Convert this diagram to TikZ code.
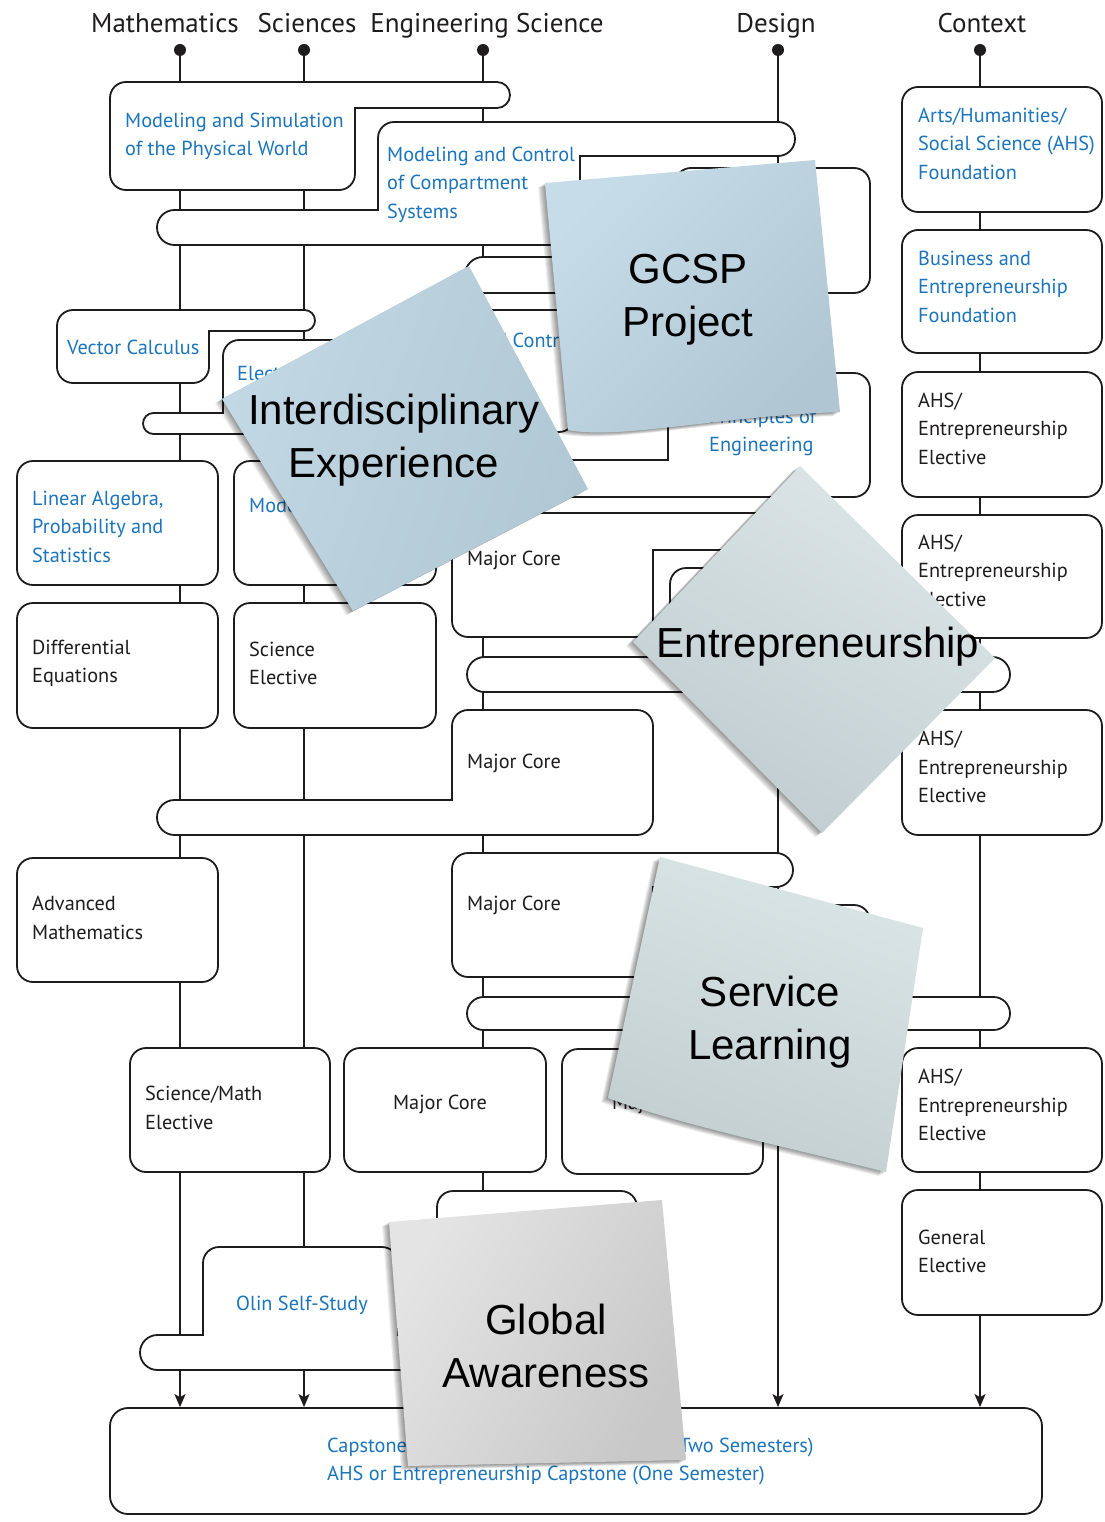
\documentclass[tikz,border=0pt]{standalone}
\usepackage{fontspec}
\setmainfont{PT Sans}
\newfontfamily\notefont{Liberation Sans}
\usetikzlibrary{arrows.meta}
\definecolor{olblue}{RGB}{28,117,188}
\definecolor{ink}{RGB}{30,28,29}
\definecolor{gcA}{RGB}{198,221,233}
\definecolor{gcB}{RGB}{176,198,211}
\definecolor{iA}{RGB}{194,216,228}
\definecolor{iB}{RGB}{176,199,212}
\definecolor{eA}{RGB}{220,230,232}
\definecolor{eB}{RGB}{192,204,208}
\definecolor{sA}{RGB}{218,229,230}
\definecolor{sB}{RGB}{194,206,208}
\definecolor{glA}{RGB}{228,228,228}
\definecolor{glB}{RGB}{200,200,200}
\newcommand\stickynote[4]{%
  \foreach \s in {1,...,7}{\fill[black,opacity=0.065,shift={(-\s*1.0,\s*0.6)}] #1;}%
  \shade[left color=#2,right color=#3,shading angle=#4] #1;}
\begin{document}
\begin{tikzpicture}[x=1pt,y=-1pt,
  shp/.style={draw=ink, line width=1.8pt, fill=white},
  col/.style={draw=ink, line width=1.8pt},
  tip/.style={-{Stealth[length=13pt,width=11pt,inset=3pt]}},
  bt/.style={font=\fontsize{20.3}{28.5}\selectfont, text=ink, align=left, anchor=west, inner sep=0pt},
  btb/.style={bt, text=olblue},
  hdr/.style={font=\fontsize{27}{30}\selectfont, text=ink, inner sep=0pt, anchor=base},
  notet/.style={font=\notefont\fontsize{42}{53}\selectfont, text=black, align=center, inner sep=0pt}]
\useasboundingbox (0,0) rectangle (1104,1522);

% capstone
\node[draw=ink, line width=1.8pt, rounded corners=18pt, minimum width=932pt, minimum height=106pt, inner sep=0pt, fill=white] (cap) at (576,1461) {};

% headers and column dots
\node[hdr] (hM) at (165,33) {Mathematics};
\node[hdr] (hS) at (307,33) {Sciences};
\node[hdr] (hE) at (487,33) {Engineering Science};
\node[hdr] (hD) at (776,33) {Design};
\node[hdr] (hC) at (982,33) {Context};
\coordinate (dM) at (180,50);
\coordinate (dS) at (304,50);
\coordinate (dE) at (483,50);
\coordinate (dD) at (778,50);
\coordinate (dC) at (980,50);
\foreach \c in {dM,dS,dE,dD,dC} {
  \fill[ink] (\c) circle[radius=6];
  \draw[col,tip] (\c) -- (\c |- cap.north);
}

% ---- shapes ----
% Modeling and Simulation
\draw[shp] (110,120) -- (110,98) arc[start angle=180,end angle=270,radius=16] -- (497,82) arc[start angle=-90,end angle=90,radius=13] -- (355,108) -- (355,174) arc[start angle=0,end angle=90,radius=16] -- (126,190) arc[start angle=90,end angle=180,radius=16] -- cycle;
% Modeling and Control of Compartment Systems
\draw[shp] (174.5,210) -- (378,210) -- (378,138) arc[start angle=180,end angle=270,radius=16] -- (778,122) arc[start angle=-90,end angle=90,radius=17] -- (580,156) -- (580,210) -- (602,210) arc[start angle=-90,end angle=90,radius=17.5] -- (174.5,245) arc[start angle=90,end angle=270,radius=17.5] -- cycle;
% design course under GCSP
\draw[shp] (483,257) -- (675,257) -- (675,184) arc[start angle=180,end angle=270,radius=16] -- (854,168) arc[start angle=-90,end angle=0,radius=16] -- (870,277) arc[start angle=0,end angle=90,radius=16] -- (483,293) arc[start angle=90,end angle=270,radius=18] -- cycle;
% Vector Calculus
\draw[shp] (57,350) -- (57,326) arc[start angle=180,end angle=270,radius=16] -- (304.5,310) arc[start angle=-90,end angle=90,radius=10.5] -- (209,331) -- (209,367) arc[start angle=0,end angle=90,radius=16] -- (73,383) arc[start angle=90,end angle=180,radius=16] -- cycle;
% Electricity ...
\draw[shp] (153.5,413) -- (223,413) -- (223,356) arc[start angle=180,end angle=270,radius=16] -- (374,340) arc[start angle=-90,end angle=0,radius=16] -- (390,418) arc[start angle=0,end angle=90,radius=16] -- (153.5,434) arc[start angle=90,end angle=270,radius=10.5] -- cycle;
% ... and Control
\draw[shp, rounded corners=16pt] (400,310) rectangle (575,432);
% Principles of Engineering
\draw[shp] (490,460) -- (668,460) -- (668,389) arc[start angle=180,end angle=270,radius=16] -- (854,373) arc[start angle=-90,end angle=0,radius=16] -- (870,481) arc[start angle=0,end angle=90,radius=16] -- (490,497) arc[start angle=90,end angle=270,radius=18.5] -- cycle;
% left column boxes
\draw[shp, rounded corners=16pt] (17,461) rectangle (218,585);
\draw[shp, rounded corners=16pt] (234,461) rectangle (436,585);
\draw[shp, rounded corners=16pt] (17,603) rectangle (218,728);
\draw[shp, rounded corners=16pt] (234,603) rectangle (436,728);
\draw[shp, rounded corners=16pt] (17,858) rectangle (218,982);
% Major Core 1
\draw[shp] (452,600) -- (452,529) arc[start angle=180,end angle=270,radius=16] -- (816.5,513) arc[start angle=-90,end angle=90,radius=18.5] -- (653,550) -- (653,621) arc[start angle=0,end angle=90,radius=16] -- (468,637) arc[start angle=90,end angle=180,radius=16] -- cycle;
% design course 2
\draw[shp] (484.5,657) -- (670,657) -- (670,584) arc[start angle=180,end angle=270,radius=16] -- (854,568) arc[start angle=-90,end angle=0,radius=16] -- (870,657) -- (992.5,657) arc[start angle=-90,end angle=90,radius=17.5] -- (484.5,692) arc[start angle=90,end angle=270,radius=17.5] -- cycle;
% Major Core 2
\draw[shp] (174.5,800) -- (452,800) -- (452,726) arc[start angle=180,end angle=270,radius=16] -- (637,710) arc[start angle=-90,end angle=0,radius=16] -- (653,819) arc[start angle=0,end angle=90,radius=16] -- (174.5,835) arc[start angle=90,end angle=270,radius=17.5] -- cycle;
% Major Core 3
\draw[shp] (452,920) -- (452,869) arc[start angle=180,end angle=270,radius=16] -- (776,853) arc[start angle=-90,end angle=90,radius=17] -- (653,887) -- (653,961) arc[start angle=0,end angle=90,radius=16] -- (468,977) arc[start angle=90,end angle=180,radius=16] -- cycle;
% design course 3
\draw[shp] (483.5,997) -- (670,997) -- (670,921) arc[start angle=180,end angle=270,radius=16] -- (854,905) arc[start angle=-90,end angle=0,radius=16] -- (870,997) -- (993.5,997) arc[start angle=-90,end angle=90,radius=16.5] -- (483.5,1030) arc[start angle=90,end angle=270,radius=16.5] -- cycle;
% bottom row
\draw[shp, rounded corners=16pt] (130,1048) rectangle (330,1172);
\draw[shp, rounded corners=16pt] (344,1048) rectangle (546,1172);
\draw[shp, rounded corners=16pt] (562,1049) rectangle (763,1174);
\draw[shp, rounded corners=16pt] (437,1191) rectangle (637,1315);
% Olin Self-Study
\draw[shp] (157.5,1335) -- (203,1335) -- (203,1263) arc[start angle=180,end angle=270,radius=16] -- (382,1247) arc[start angle=-90,end angle=0,radius=16] -- (398,1335) -- (420,1335) arc[start angle=-90,end angle=90,radius=17.5] -- (157.5,1370) arc[start angle=90,end angle=270,radius=17.5] -- cycle;
% context column
\draw[shp, rounded corners=16pt] (902,87) rectangle (1102,212);
\draw[shp, rounded corners=16pt] (902,230) rectangle (1102,353);
\draw[shp, rounded corners=16pt] (902,372) rectangle (1102,497);
\draw[shp, rounded corners=16pt] (902,515) rectangle (1102,638);
\draw[shp, rounded corners=16pt] (902,710) rectangle (1102,835);
\draw[shp, rounded corners=16pt] (902,1048) rectangle (1102,1172);
\draw[shp, rounded corners=16pt] (902,1190) rectangle (1102,1315);

% ---- texts ----
\node[btb] (tms) at (125,136.5) {Modeling and Simulation\\of the Physical World};
\node[btb] (tmc) at (387,184.5) {Modeling and Control\\of Compartment\\Systems};
\node[btb] (tvc) at (67,347) {Vector Calculus};
\node[btb] (tel) at (237,375) {Electricity};
\node[btb] (tct) at (475,340) {and Control};
\node[btb] (tpe) at (709,432.5) {Principles of\\Engineering};
\node[btb] (tla) at (32,526.5) {Linear Algebra,\\Probability and\\Statistics};
\node[btb] (tmo) at (249,507) {Modern Biology};
\node[bt] (tm1) at (467,560) {Major Core};
\node[bt] (tde) at (32,663.5) {Differential\\Equations};
\node[bt] (tse) at (249,663.5) {Science\\Elective};
\node[bt] (tm2) at (467,763) {Major Core};
\node[bt] (tam) at (32,918) {Advanced\\Mathematics};
\node[bt] (tm3) at (467,905) {Major Core};
\node[bt] (tsm) at (145,1108) {Science/Math\\Elective};
\node[bt, anchor=center] (tm4) at (440,1104) {Major Core};
\node[bt, anchor=center] (tm5) at (659,1104) {Major Core};
\node[btb] (tos) at (236,1305) {Olin Self-Study};
\node[btb] (tcp) at (327,1461.5) {Capstone Engineering Design Programs (Two Semesters)\\AHS or Entrepreneurship Capstone (One Semester)};
\node[btb] (tahs) at (918,143.5) {Arts/Humanities/\\Social Science (AHS)\\Foundation};
\node[btb] (tbe) at (918,286.5) {Business and\\Entrepreneurship\\Foundation};
\node[bt] (te1) at (918,428.5) {AHS/\\Entrepreneurship\\Elective};
\node[bt] (te2) at (918,570.5) {AHS/\\Entrepreneurship\\Elective};
\node[bt] (te3) at (918,767) {AHS/\\Entrepreneurship\\Elective};
\node[bt] (te4) at (918,1105) {AHS/\\Entrepreneurship\\Elective};
\node[bt] (tge) at (918,1251.5) {General\\Elective};

% ---- sticky notes ----
\stickynote{(222,399) -- (469,266) -- (588,489) -- (353,611) -- cycle}{iA}{iB}{70}
\node[notet] (nI) at (394,440) {Interdisciplinary\\Experience};
\stickynote{(545,183) -- (815,160) -- (840,412) .. controls (720,416) and (620,440) .. (568,430) -- cycle}{gcA}{gcB}{45}
\node[notet] (nG) at (688,300) {GCSP\\Project};
\stickynote{(800,466) -- (995,658) -- (822,833) -- (633,642) -- cycle}{eA}{eB}{-30}
\node[notet] (nE) at (818,647) {Entrepreneurship};
\stickynote{(660,857) -- (923,928) -- (886,1172) .. controls (800,1150) and (680,1125) .. (608,1098) -- cycle}{sA}{sB}{-20}
\node[notet] (nS) at (770,1022) {Service\\Learning};
\stickynote{(389,1222) -- (662,1200) -- (686,1460) -- (408,1466) -- cycle}{glA}{glB}{60}
\node[notet] (nA) at (546,1346) {Global\\Awareness};
\end{tikzpicture}
\end{document}
